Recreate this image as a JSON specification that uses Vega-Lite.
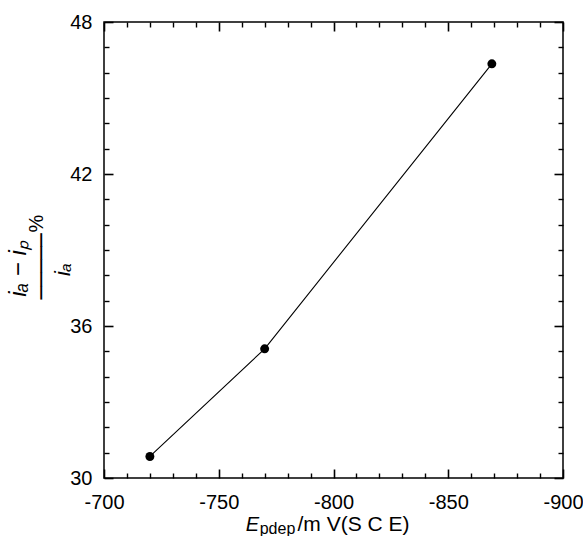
{
  "$schema": "https://vega.github.io/schema/vega-lite/v6.json",
  "autosize": {"type": "none"},
  "padding": {"left": 104, "top": 22, "right": 20, "bottom": 58},
  "width": 459,
  "height": 456,
  "background": "white",
  "config": {
    "view": {"stroke": "black", "strokeWidth": 1.5},
    "axis": {
      "grid": false,
      "domain": false,
      "ticks": true,
      "labelFont": "Liberation Sans",
      "labelFontSize": 20,
      "labelColor": "black",
      "titleFont": "Liberation Sans",
      "titleColor": "black",
      "titleFontWeight": "normal",
      "titleFontSize": 20
    }
  },
  "data": {"values": [
    {"E": -720, "r": 30.85},
    {"E": -770, "r": 35.1},
    {"E": -869, "r": 46.35}
  ]},
  "resolve": {"axis": {"x": "independent", "y": "independent"}},
  "layer": [
    {
      "mark": {"type": "line", "color": "black", "strokeWidth": 1.1},
      "encoding": {
        "x": {"field": "E", "type": "quantitative", "scale": {"domain": [-900, -700], "reverse": true, "nice": false},
          "axis": {"orient": "bottom", "zindex": 1, "values": [-700, -750, -800, -850, -900], "offset": -9, "ticks": true, "tickSize": 9, "tickColor": "black", "tickWidth": 1.6, "labelPadding": 14, "labelFlush": false,
            "labelExpr": "replace(datum.label, '−', '-')",
            "title": "E", "titleFontStyle": "italic", "titleX": 148, "titleY": 61, "titleAlign": "center", "titleBaseline": "alphabetic"}},
        "y": {"field": "r", "type": "quantitative", "scale": {"domain": [30, 48], "nice": false, "zero": false},
          "axis": {"orient": "left", "zindex": 1, "values": [30, 36, 42, 48], "offset": -9, "ticks": true, "tickSize": 9, "tickColor": "black", "tickWidth": 1.6, "labelPadding": 12, "labelFlush": false,
            "title": "iₐ − iₚ", "titleFontStyle": "italic", "titleFontSize": 24, "titleX": -95, "titleY": 246, "titleAngle": 270, "titleAlign": "center", "titleBaseline": "middle"}}
      }
    },
    {
      "mark": {"type": "point", "filled": true, "color": "black", "opacity": 1, "size": 80},
      "encoding": {
        "x": {"field": "E", "type": "quantitative", "scale": {"domain": [-900, -700], "reverse": true, "nice": false},
          "axis": {"orient": "bottom", "zindex": 1, "values": [-710, -720, -730, -740, -760, -770, -780, -790, -810, -820, -830, -840, -860, -870, -880, -890], "offset": -5, "ticks": true, "tickSize": 5, "tickColor": "black", "tickWidth": 1.4, "labels": false,
            "title": "pdep", "titleFontSize": 16, "titleX": 173, "titleY": 60, "titleAlign": "center", "titleBaseline": "alphabetic"}},
        "y": {"field": "r", "type": "quantitative", "scale": {"domain": [30, 48], "nice": false, "zero": false},
          "axis": {"orient": "left", "zindex": 1, "values": [31, 32, 33, 34, 35, 37, 38, 39, 40, 41, 43, 44, 45, 46, 47], "offset": -5, "ticks": true, "tickSize": 5, "tickColor": "black", "tickWidth": 1.4, "labels": false,
            "title": "iₐ", "titleFontStyle": "italic", "titleFontSize": 22, "titleX": -47, "titleY": 247, "titleAngle": 270, "titleAlign": "center", "titleBaseline": "middle"}}
      }
    },
    {
      "mark": {"type": "point", "opacity": 0},
      "encoding": {
        "x": {"field": "E", "type": "quantitative", "scale": {"domain": [-900, -700], "reverse": true, "nice": false},
          "axis": {"orient": "top", "zindex": 1, "values": [-700, -750, -800, -850, -900], "offset": -9, "ticks": true, "tickSize": 9, "tickColor": "black", "tickWidth": 1.6, "labels": false,
            "title": "/m V(S C E)", "titleFontSize": 21, "titleX": 249, "titleY": 499, "titleAlign": "center", "titleBaseline": "alphabetic"}},
        "y": {"field": "r", "type": "quantitative", "scale": {"domain": [30, 48], "nice": false, "zero": false},
          "axis": {"orient": "right", "zindex": 1, "values": [30, 36, 42, 48], "offset": -9, "ticks": true, "tickSize": 9, "tickColor": "black", "tickWidth": 1.6, "labels": false,
            "title": "─────", "titleFont": "DejaVu Sans Mono", "titleFontSize": 22, "titleX": -513, "titleY": 244, "titleAngle": 270, "titleAlign": "center", "titleBaseline": "middle"}}
      }
    },
    {
      "mark": {"type": "point", "opacity": 0},
      "encoding": {
        "x": {"field": "E", "type": "quantitative", "scale": {"domain": [-900, -700], "reverse": true, "nice": false},
          "axis": {"orient": "top", "zindex": 1, "values": [-710, -720, -730, -740, -760, -770, -780, -790, -810, -820, -830, -840, -860, -870, -880, -890], "offset": -5, "ticks": true, "tickSize": 5, "tickColor": "black", "tickWidth": 1.4, "labels": false, "title": null}},
        "y": {"field": "r", "type": "quantitative", "scale": {"domain": [30, 48], "nice": false, "zero": false},
          "axis": {"orient": "right", "zindex": 1, "values": [31, 32, 33, 34, 35, 37, 38, 39, 40, 41, 43, 44, 45, 46, 47], "offset": -5, "ticks": true, "tickSize": 5, "tickColor": "black", "tickWidth": 1.4, "labels": false,
            "title": "%", "titleFontSize": 20, "titleX": -522, "titleY": 201, "titleAngle": 270, "titleAlign": "center", "titleBaseline": "middle"}}
      }
    }
  ]
}
